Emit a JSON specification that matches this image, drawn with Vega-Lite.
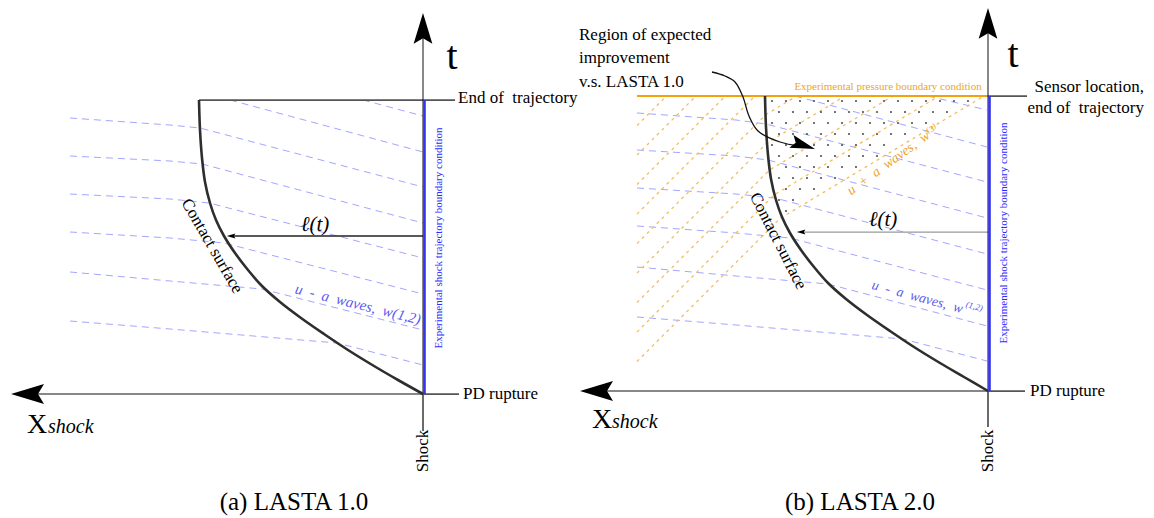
{
  "$schema": "https://vega.github.io/schema/vega-lite/v6.json",
  "width": 1154,
  "height": 518,
  "autosize": {"type": "fit", "contains": "padding"},
  "padding": 0,
  "background": "white",
  "config": {"view": {"stroke": null}, "font": "Tinos, 'Liberation Serif', 'Nimbus Roman', 'Times New Roman', 'DejaVu Serif', serif", "text": {"font": "Tinos, 'Liberation Serif', 'Nimbus Roman', 'Times New Roman', 'DejaVu Serif', serif"}},
  "encoding": {
    "x": {"field": "x", "type": "quantitative", "axis": null, "scale": {"domain": [0, 1154], "nice": false, "zero": false}},
    "y": {"field": "y", "type": "quantitative", "axis": null, "scale": {"domain": [0, 518], "reverse": true, "nice": false, "zero": false}}
  },
  "datasets": {
    "lines": [
      {"g": "a1", "k": "uminus", "i": 0, "x": 363, "y": 100}, {"g": "a1", "k": "uminus", "i": 1, "x": 423, "y": 116},
      {"g": "a2", "k": "uminus", "i": 0, "x": 230, "y": 100}, {"g": "a2", "k": "uminus", "i": 1, "x": 423, "y": 152},
      {"g": "a3", "k": "uminus", "i": 0, "x": 70, "y": 118}, {"g": "a3", "k": "uminus", "i": 1, "x": 170, "y": 125}, {"g": "a3", "k": "uminus", "i": 2, "x": 200, "y": 128}, {"g": "a3", "k": "uminus", "i": 3, "x": 423, "y": 187},
      {"g": "a4", "k": "uminus", "i": 0, "x": 70, "y": 156}, {"g": "a4", "k": "uminus", "i": 1, "x": 170, "y": 161}, {"g": "a4", "k": "uminus", "i": 2, "x": 202, "y": 164}, {"g": "a4", "k": "uminus", "i": 3, "x": 423, "y": 223},
      {"g": "a5", "k": "uminus", "i": 0, "x": 70, "y": 194}, {"g": "a5", "k": "uminus", "i": 1, "x": 170, "y": 199}, {"g": "a5", "k": "uminus", "i": 2, "x": 209, "y": 203}, {"g": "a5", "k": "uminus", "i": 3, "x": 423, "y": 258},
      {"g": "a6", "k": "uminus", "i": 0, "x": 70, "y": 232}, {"g": "a6", "k": "uminus", "i": 1, "x": 170, "y": 238}, {"g": "a6", "k": "uminus", "i": 2, "x": 224, "y": 243}, {"g": "a6", "k": "uminus", "i": 3, "x": 423, "y": 294},
      {"g": "a7", "k": "uminus", "i": 0, "x": 70, "y": 272}, {"g": "a7", "k": "uminus", "i": 1, "x": 170, "y": 281}, {"g": "a7", "k": "uminus", "i": 2, "x": 262, "y": 289}, {"g": "a7", "k": "uminus", "i": 3, "x": 423, "y": 330},
      {"g": "a8", "k": "uminus", "i": 0, "x": 70, "y": 321}, {"g": "a8", "k": "uminus", "i": 1, "x": 170, "y": 329}, {"g": "a8", "k": "uminus", "i": 2, "x": 337, "y": 343}, {"g": "a8", "k": "uminus", "i": 3, "x": 423, "y": 365},
      {"g": "b1", "k": "uminus", "i": 0, "x": 928, "y": 96}, {"g": "b1", "k": "uminus", "i": 1, "x": 987, "y": 110},
      {"g": "b2", "k": "uminus", "i": 0, "x": 795, "y": 96}, {"g": "b2", "k": "uminus", "i": 1, "x": 987, "y": 147},
      {"g": "b3", "k": "uminus", "i": 0, "x": 637, "y": 113}, {"g": "b3", "k": "uminus", "i": 1, "x": 736, "y": 120}, {"g": "b3", "k": "uminus", "i": 2, "x": 766, "y": 124}, {"g": "b3", "k": "uminus", "i": 3, "x": 987, "y": 182},
      {"g": "b4", "k": "uminus", "i": 0, "x": 637, "y": 150}, {"g": "b4", "k": "uminus", "i": 1, "x": 736, "y": 156}, {"g": "b4", "k": "uminus", "i": 2, "x": 768, "y": 160}, {"g": "b4", "k": "uminus", "i": 3, "x": 987, "y": 218},
      {"g": "b5", "k": "uminus", "i": 0, "x": 637, "y": 188}, {"g": "b5", "k": "uminus", "i": 1, "x": 736, "y": 194}, {"g": "b5", "k": "uminus", "i": 2, "x": 775, "y": 198}, {"g": "b5", "k": "uminus", "i": 3, "x": 987, "y": 254},
      {"g": "b6", "k": "uminus", "i": 0, "x": 637, "y": 226}, {"g": "b6", "k": "uminus", "i": 1, "x": 736, "y": 233}, {"g": "b6", "k": "uminus", "i": 2, "x": 790, "y": 238}, {"g": "b6", "k": "uminus", "i": 3, "x": 987, "y": 290},
      {"g": "b7", "k": "uminus", "i": 0, "x": 637, "y": 267}, {"g": "b7", "k": "uminus", "i": 1, "x": 736, "y": 276}, {"g": "b7", "k": "uminus", "i": 2, "x": 828, "y": 284}, {"g": "b7", "k": "uminus", "i": 3, "x": 987, "y": 326},
      {"g": "b8", "k": "uminus", "i": 0, "x": 637, "y": 317}, {"g": "b8", "k": "uminus", "i": 1, "x": 736, "y": 325}, {"g": "b8", "k": "uminus", "i": 2, "x": 903, "y": 339}, {"g": "b8", "k": "uminus", "i": 3, "x": 987, "y": 361},
      {"g": "o1", "k": "uplus", "i": 0, "x": 637, "y": 125.5}, {"g": "o1", "k": "uplus", "i": 1, "x": 666.5, "y": 96},
      {"g": "o2", "k": "uplus", "i": 0, "x": 637, "y": 155}, {"g": "o2", "k": "uplus", "i": 1, "x": 696, "y": 96},
      {"g": "o3", "k": "uplus", "i": 0, "x": 637, "y": 184.5}, {"g": "o3", "k": "uplus", "i": 1, "x": 725.5, "y": 96},
      {"g": "o4", "k": "uplus", "i": 0, "x": 637, "y": 214}, {"g": "o4", "k": "uplus", "i": 1, "x": 755, "y": 96},
      {"g": "o5", "k": "uplus", "i": 0, "x": 637, "y": 243.5}, {"g": "o5", "k": "uplus", "i": 1, "x": 766, "y": 114.5}, {"g": "o5", "k": "uplus", "i": 2, "x": 797, "y": 96},
      {"g": "o6", "k": "uplus", "i": 0, "x": 637, "y": 273}, {"g": "o6", "k": "uplus", "i": 1, "x": 767, "y": 143}, {"g": "o6", "k": "uplus", "i": 2, "x": 845, "y": 96},
      {"g": "o7", "k": "uplus", "i": 0, "x": 637, "y": 302.5}, {"g": "o7", "k": "uplus", "i": 1, "x": 769.5, "y": 170}, {"g": "o7", "k": "uplus", "i": 2, "x": 893, "y": 96},
      {"g": "o8", "k": "uplus", "i": 0, "x": 637, "y": 332}, {"g": "o8", "k": "uplus", "i": 1, "x": 774, "y": 195}, {"g": "o8", "k": "uplus", "i": 2, "x": 939, "y": 96},
      {"g": "o9", "k": "uplus", "i": 0, "x": 637, "y": 361.5}, {"g": "o9", "k": "uplus", "i": 1, "x": 780, "y": 218.5}, {"g": "o9", "k": "uplus", "i": 2, "x": 984, "y": 96},
      {"g": "pr", "k": "pressure", "i": 0, "x": 637, "y": 96}, {"g": "pr", "k": "pressure", "i": 1, "x": 988, "y": 96},
      {"g": "ea", "k": "guide", "i": 0, "x": 199, "y": 100}, {"g": "ea", "k": "guide", "i": 1, "x": 455, "y": 100},
      {"g": "pa", "k": "guide", "i": 0, "x": 423, "y": 394}, {"g": "pa", "k": "guide", "i": 1, "x": 459, "y": 394},
      {"g": "ka", "k": "guide", "i": 0, "x": 423, "y": 394}, {"g": "ka", "k": "guide", "i": 1, "x": 423, "y": 431},
      {"g": "sn", "k": "guide", "i": 0, "x": 988, "y": 96}, {"g": "sn", "k": "guide", "i": 1, "x": 1027, "y": 96},
      {"g": "pb", "k": "guide", "i": 0, "x": 988, "y": 391}, {"g": "pb", "k": "guide", "i": 1, "x": 1025, "y": 391},
      {"g": "kb", "k": "guide", "i": 0, "x": 988, "y": 391}, {"g": "kb", "k": "guide", "i": 1, "x": 988, "y": 427},
      {"g": "la", "k": "ell_a", "i": 0, "x": 423, "y": 236}, {"g": "la", "k": "ell_a", "i": 1, "x": 232, "y": 236},
      {"g": "lb", "k": "ell_b", "i": 0, "x": 988, "y": 232}, {"g": "lb", "k": "ell_b", "i": 1, "x": 802, "y": 232},
      {"g": "ta", "k": "axis", "i": 0, "x": 423, "y": 394}, {"g": "ta", "k": "axis", "i": 1, "x": 423, "y": 34},
      {"g": "xa", "k": "axis", "i": 0, "x": 423, "y": 394}, {"g": "xa", "k": "axis", "i": 1, "x": 34, "y": 394},
      {"g": "tb", "k": "axis", "i": 0, "x": 988, "y": 391}, {"g": "tb", "k": "axis", "i": 1, "x": 988, "y": 29},
      {"g": "xb", "k": "axis", "i": 0, "x": 988, "y": 391}, {"g": "xb", "k": "axis", "i": 1, "x": 603, "y": 391},
      {"g": "sa", "k": "shock", "i": 0, "x": 424.5, "y": 100}, {"g": "sa", "k": "shock", "i": 1, "x": 424.5, "y": 394},
      {"g": "sb", "k": "shock", "i": 0, "x": 989.5, "y": 96}, {"g": "sb", "k": "shock", "i": 1, "x": 989.5, "y": 391}
    ],
    "curves": [
      {"g": "ca", "k": "contact", "i": 0, "x": 199, "y": 100}, {"g": "ca", "k": "contact", "i": 1, "x": 200, "y": 130}, {"g": "ca", "k": "contact", "i": 2, "x": 202, "y": 158}, {"g": "ca", "k": "contact", "i": 3, "x": 205, "y": 182}, {"g": "ca", "k": "contact", "i": 4, "x": 210, "y": 203}, {"g": "ca", "k": "contact", "i": 5, "x": 216, "y": 220}, {"g": "ca", "k": "contact", "i": 6, "x": 224, "y": 236}, {"g": "ca", "k": "contact", "i": 7, "x": 235, "y": 253}, {"g": "ca", "k": "contact", "i": 8, "x": 248, "y": 270}, {"g": "ca", "k": "contact", "i": 9, "x": 262, "y": 286}, {"g": "ca", "k": "contact", "i": 10, "x": 280, "y": 302}, {"g": "ca", "k": "contact", "i": 11, "x": 301, "y": 318}, {"g": "ca", "k": "contact", "i": 12, "x": 324, "y": 334}, {"g": "ca", "k": "contact", "i": 13, "x": 348, "y": 350}, {"g": "ca", "k": "contact", "i": 14, "x": 374, "y": 366}, {"g": "ca", "k": "contact", "i": 15, "x": 398, "y": 380}, {"g": "ca", "k": "contact", "i": 16, "x": 423, "y": 394},
      {"g": "cb", "k": "contact", "i": 0, "x": 765, "y": 96}, {"g": "cb", "k": "contact", "i": 1, "x": 766, "y": 127}, {"g": "cb", "k": "contact", "i": 2, "x": 768, "y": 155}, {"g": "cb", "k": "contact", "i": 3, "x": 771, "y": 179}, {"g": "cb", "k": "contact", "i": 4, "x": 776, "y": 200}, {"g": "cb", "k": "contact", "i": 5, "x": 782, "y": 217}, {"g": "cb", "k": "contact", "i": 6, "x": 790, "y": 233}, {"g": "cb", "k": "contact", "i": 7, "x": 801, "y": 250}, {"g": "cb", "k": "contact", "i": 8, "x": 814, "y": 267}, {"g": "cb", "k": "contact", "i": 9, "x": 828, "y": 283}, {"g": "cb", "k": "contact", "i": 10, "x": 846, "y": 299}, {"g": "cb", "k": "contact", "i": 11, "x": 867, "y": 315}, {"g": "cb", "k": "contact", "i": 12, "x": 890, "y": 331}, {"g": "cb", "k": "contact", "i": 13, "x": 914, "y": 347}, {"g": "cb", "k": "contact", "i": 14, "x": 940, "y": 363}, {"g": "cb", "k": "contact", "i": 15, "x": 964, "y": 377}, {"g": "cb", "k": "contact", "i": 16, "x": 988, "y": 391},
      {"g": "pt", "k": "pointer", "i": 0, "x": 712, "y": 72}, {"g": "pt", "k": "pointer", "i": 1, "x": 725, "y": 76}, {"g": "pt", "k": "pointer", "i": 2, "x": 735, "y": 82}, {"g": "pt", "k": "pointer", "i": 3, "x": 743, "y": 97}, {"g": "pt", "k": "pointer", "i": 4, "x": 749, "y": 116}, {"g": "pt", "k": "pointer", "i": 5, "x": 758, "y": 131}, {"g": "pt", "k": "pointer", "i": 6, "x": 780, "y": 142}, {"g": "pt", "k": "pointer", "i": 7, "x": 800, "y": 146}
    ],
    "dots": [
      {"x": 772, "y": 101}, {"x": 786, "y": 101}, {"x": 800, "y": 101}, {"x": 814, "y": 101}, {"x": 828, "y": 101}, {"x": 842, "y": 101}, {"x": 856, "y": 101}, {"x": 870, "y": 101}, {"x": 884, "y": 101}, {"x": 898, "y": 101}, {"x": 912, "y": 101}, {"x": 926, "y": 101}, {"x": 940, "y": 101}, {"x": 954, "y": 101}, {"x": 968, "y": 101},
      {"x": 779, "y": 112}, {"x": 793, "y": 112}, {"x": 807, "y": 112}, {"x": 821, "y": 112}, {"x": 835, "y": 112}, {"x": 849, "y": 112}, {"x": 863, "y": 112}, {"x": 877, "y": 112}, {"x": 891, "y": 112}, {"x": 905, "y": 112}, {"x": 919, "y": 112}, {"x": 933, "y": 112}, {"x": 947, "y": 112},
      {"x": 772, "y": 123}, {"x": 786, "y": 123}, {"x": 800, "y": 123}, {"x": 814, "y": 123}, {"x": 828, "y": 123}, {"x": 842, "y": 123}, {"x": 856, "y": 123}, {"x": 870, "y": 123}, {"x": 884, "y": 123}, {"x": 898, "y": 123}, {"x": 912, "y": 123}, {"x": 926, "y": 123},
      {"x": 779, "y": 134}, {"x": 793, "y": 134}, {"x": 807, "y": 134}, {"x": 821, "y": 134}, {"x": 835, "y": 134}, {"x": 849, "y": 134}, {"x": 863, "y": 134}, {"x": 877, "y": 134}, {"x": 891, "y": 134}, {"x": 905, "y": 134},
      {"x": 772, "y": 145}, {"x": 786, "y": 145}, {"x": 800, "y": 145}, {"x": 814, "y": 145}, {"x": 828, "y": 145}, {"x": 842, "y": 145}, {"x": 856, "y": 145}, {"x": 870, "y": 145}, {"x": 884, "y": 145},
      {"x": 779, "y": 156}, {"x": 793, "y": 156}, {"x": 807, "y": 156}, {"x": 821, "y": 156}, {"x": 835, "y": 156}, {"x": 849, "y": 156}, {"x": 863, "y": 156}, {"x": 877, "y": 156},
      {"x": 786, "y": 167}, {"x": 800, "y": 167}, {"x": 814, "y": 167}, {"x": 828, "y": 167}, {"x": 842, "y": 167}, {"x": 856, "y": 167},
      {"x": 779, "y": 178}, {"x": 793, "y": 178}, {"x": 807, "y": 178}, {"x": 821, "y": 178}, {"x": 835, "y": 178},
      {"x": 786, "y": 189}, {"x": 800, "y": 189}, {"x": 814, "y": 189},
      {"x": 779, "y": 200}, {"x": 793, "y": 200},
      {"x": 786, "y": 211}
    ],
    "heads": [
      {"h": "up", "x": 423, "y": 31.7}, {"h": "up", "x": 988, "y": 26.7},
      {"h": "left", "x": 31, "y": 394}, {"h": "left", "x": 600, "y": 391},
      {"h": "small", "x": 232, "y": 236}, {"h": "small", "x": 802, "y": 232},
      {"h": "pointer", "x": 800.7, "y": 144.4}
    ],
    "labels": [
      {"s": "t", "r": "tbig", "x": 452, "y": 69}, {"s": "t", "r": "tbig", "x": 1013, "y": 67},
      {"s": "X", "r": "X", "x": 27, "y": 433}, {"s": "X", "r": "X", "x": 592, "y": 428},
      {"s": "shock", "r": "sub", "x": 48, "y": 433}, {"s": "shock", "r": "sub", "x": 612, "y": 428},
      {"s": "End of\u00a0 trajectory", "r": "left", "x": 458, "y": 98},
      {"s": "PD rupture", "r": "left", "x": 463, "y": 394},
      {"s": "PD rupture", "r": "left", "x": 1030, "y": 391},
      {"s": "Region of expected", "r": "left", "x": 579, "y": 35},
      {"s": "improvement", "r": "left", "x": 579, "y": 58},
      {"s": "v.s. LASTA 1.0", "r": "left", "x": 579, "y": 82},
      {"s": "Sensor location,", "r": "right", "x": 1144, "y": 87},
      {"s": "end of\u00a0 trajectory", "r": "right", "x": 1144, "y": 108},
      {"s": "Shock", "r": "vert", "x": 423, "y": 451}, {"s": "Shock", "r": "vert", "x": 988, "y": 451},
      {"s": "(a) LASTA 1.0", "r": "cap", "x": 294, "y": 502}, {"s": "(b) LASTA 2.0", "r": "cap", "x": 860, "y": 502},
      {"s": "ℓ(t)", "r": "ell", "x": 315, "y": 225}, {"s": "ℓ(t)", "r": "ell", "x": 883, "y": 220},
      {"s": "Contact surface", "r": "csa", "x": 212, "y": 246},
      {"s": "Contact surface", "r": "csb", "x": 778, "y": 241},
      {"s": "Experimental shock trajectory boundary condition", "r": "bc", "x": 439, "y": 238},
      {"s": "Experimental shock trajectory boundary condition", "r": "bc", "x": 1004, "y": 233},
      {"s": "Experimental pressure boundary condition", "r": "pbc", "x": 888, "y": 87},
      {"s": "u\u00a0 -\u00a0 a\u00a0 waves,\u00a0 w(1,2)", "r": "uma", "x": 358, "y": 304},
      {"s": "u\u00a0 -\u00a0 a\u00a0 waves,\u00a0 w", "r": "umb", "x": 872, "y": 285},
      {"s": "(1,2)", "r": "umsup", "x": 966, "y": 304},
      {"s": "u\u00a0 +\u00a0 a\u00a0 waves,\u00a0 w⁽³⁾", "r": "upa", "x": 893, "y": 160}
    ]
  },
  "layer": [
    {"data": {"name": "lines"}, "transform": [{"filter": "datum.k == 'uminus'"}],
     "mark": {"type": "line", "stroke": "#a3a6ff", "strokeWidth": 1, "strokeDash": [7, 5]},
     "encoding": {"detail": {"field": "g"}, "order": {"field": "i"}}},
    {"data": {"name": "lines"}, "transform": [{"filter": "datum.k == 'uplus'"}],
     "mark": {"type": "line", "stroke": "#f2bd5e", "strokeWidth": 1.3, "strokeDash": [3, 4]},
     "encoding": {"detail": {"field": "g"}, "order": {"field": "i"}}},
    {"data": {"name": "dots"},
     "mark": {"type": "point", "shape": "circle", "filled": true, "color": "#555555", "opacity": 1, "size": 5}},
    {"data": {"name": "lines"}, "transform": [{"filter": "indexof(['pressure','guide','ell_a','ell_b','axis'], datum.k) >= 0"}],
     "mark": {"type": "line"},
     "encoding": {
       "detail": {"field": "g"}, "order": {"field": "i"},
       "color": {"field": "k", "type": "nominal", "legend": null,
                 "scale": {"domain": ["pressure", "guide", "ell_a", "ell_b", "axis"], "range": ["#f2a20c", "#555555", "#222222", "#9a9a9a", "#111111"]}},
       "strokeWidth": {"field": "k", "type": "nominal", "legend": null,
                 "scale": {"domain": ["pressure", "guide", "ell_a", "ell_b", "axis"], "range": [2, 1, 1, 1.6, 2.4]}}
     }},
    {"data": {"name": "lines"}, "transform": [{"filter": "datum.k == 'shock'"}],
     "mark": {"type": "line", "stroke": "#3434ee", "strokeWidth": 2.6},
     "encoding": {"detail": {"field": "g"}, "order": {"field": "i"}}},
    {"data": {"name": "curves"}, "transform": [{"filter": "datum.k == 'contact'"}],
     "mark": {"type": "line", "stroke": "#2e2e2e", "strokeWidth": 2.6, "interpolate": "catmull-rom"},
     "encoding": {"detail": {"field": "g"}, "order": {"field": "i"}}},
    {"data": {"name": "curves"}, "transform": [{"filter": "datum.k == 'pointer'"}],
     "mark": {"type": "line", "stroke": "#111111", "strokeWidth": 1.3, "interpolate": "catmull-rom"},
     "encoding": {"detail": {"field": "g"}, "order": {"field": "i"}}},
    {"data": {"name": "heads"}, "transform": [{"filter": "datum.h == 'up'"}],
     "mark": {"type": "point", "shape": "M0,-1L0.5,0.65L0,0.35L-0.5,0.65Z", "size": 1400, "filled": true, "color": "#000000", "opacity": 1}},
    {"data": {"name": "heads"}, "transform": [{"filter": "datum.h == 'left'"}],
     "mark": {"type": "point", "shape": "M0,-1L0.5,0.65L0,0.35L-0.5,0.65Z", "size": 1600, "angle": -90, "filled": true, "color": "#000000", "opacity": 1}},
    {"data": {"name": "heads"}, "transform": [{"filter": "datum.h == 'small'"}],
     "mark": {"type": "point", "shape": "M0,-1L0.5,0.65L0,0.35L-0.5,0.65Z", "size": 110, "angle": -90, "filled": true, "color": "#000000", "opacity": 1}},
    {"data": {"name": "heads"}, "transform": [{"filter": "datum.h == 'pointer'"}],
     "mark": {"type": "point", "shape": "M1,0L-0.65,-0.45L-0.35,0L-0.65,0.45Z", "size": 900, "angle": 18, "filled": true, "color": "#000000", "opacity": 1}},
    {"data": {"name": "labels"}, "transform": [{"filter": "datum.r == 'tbig'"}],
     "mark": {"type": "text", "fontSize": 40, "align": "center", "baseline": "alphabetic", "color": "#000000"},
     "encoding": {"text": {"field": "s"}}},
    {"data": {"name": "labels"}, "transform": [{"filter": "datum.r == 'X'"}],
     "mark": {"type": "text", "fontSize": 28, "align": "left", "baseline": "alphabetic", "color": "#000000"},
     "encoding": {"text": {"field": "s"}}},
    {"data": {"name": "labels"}, "transform": [{"filter": "datum.r == 'sub'"}],
     "mark": {"type": "text", "fontSize": 20, "fontStyle": "italic", "align": "left", "baseline": "alphabetic", "color": "#000000"},
     "encoding": {"text": {"field": "s"}}},
    {"data": {"name": "labels"}, "transform": [{"filter": "datum.r == 'left'"}],
     "mark": {"type": "text", "fontSize": 17, "align": "left", "baseline": "middle", "color": "#000000"},
     "encoding": {"text": {"field": "s"}}},
    {"data": {"name": "labels"}, "transform": [{"filter": "datum.r == 'right'"}],
     "mark": {"type": "text", "fontSize": 17, "align": "right", "baseline": "middle", "color": "#000000"},
     "encoding": {"text": {"field": "s"}}},
    {"data": {"name": "labels"}, "transform": [{"filter": "datum.r == 'vert'"}],
     "mark": {"type": "text", "fontSize": 17, "angle": -90, "align": "center", "baseline": "middle", "color": "#000000"},
     "encoding": {"text": {"field": "s"}}},
    {"data": {"name": "labels"}, "transform": [{"filter": "datum.r == 'cap'"}],
     "mark": {"type": "text", "fontSize": 25, "align": "center", "baseline": "middle", "color": "#000000"},
     "encoding": {"text": {"field": "s"}}},
    {"data": {"name": "labels"}, "transform": [{"filter": "datum.r == 'ell'"}],
     "mark": {"type": "text", "fontSize": 21, "fontStyle": "italic", "align": "center", "baseline": "middle", "color": "#000000"},
     "encoding": {"text": {"field": "s"}}},
    {"data": {"name": "labels"}, "transform": [{"filter": "datum.r == 'csa'"}],
     "mark": {"type": "text", "fontSize": 17, "angle": 60, "align": "center", "baseline": "middle", "color": "#000000"},
     "encoding": {"text": {"field": "s"}}},
    {"data": {"name": "labels"}, "transform": [{"filter": "datum.r == 'csb'"}],
     "mark": {"type": "text", "fontSize": 17, "angle": 63, "align": "center", "baseline": "middle", "color": "#000000"},
     "encoding": {"text": {"field": "s"}}},
    {"data": {"name": "labels"}, "transform": [{"filter": "datum.r == 'bc'"}],
     "mark": {"type": "text", "fontSize": 11, "angle": -90, "align": "center", "baseline": "middle", "color": "#2b2bff"},
     "encoding": {"text": {"field": "s"}}},
    {"data": {"name": "labels"}, "transform": [{"filter": "datum.r == 'pbc'"}],
     "mark": {"type": "text", "fontSize": 11, "align": "center", "baseline": "middle", "color": "#eca52a"},
     "encoding": {"text": {"field": "s"}}},
    {"data": {"name": "labels"}, "transform": [{"filter": "datum.r == 'uma'"}],
     "mark": {"type": "text", "fontSize": 15, "fontStyle": "italic", "angle": 14, "align": "center", "baseline": "middle", "color": "#5a5af0"},
     "encoding": {"text": {"field": "s"}}},
    {"data": {"name": "labels"}, "transform": [{"filter": "datum.r == 'umb'"}],
     "mark": {"type": "text", "fontSize": 14, "fontStyle": "italic", "angle": 15, "align": "left", "baseline": "middle", "color": "#5a5af0"},
     "encoding": {"text": {"field": "s"}}},
    {"data": {"name": "labels"}, "transform": [{"filter": "datum.r == 'umsup'"}],
     "mark": {"type": "text", "fontSize": 9, "fontStyle": "italic", "angle": 15, "align": "left", "baseline": "middle", "color": "#5a5af0"},
     "encoding": {"text": {"field": "s"}}},
    {"data": {"name": "labels"}, "transform": [{"filter": "datum.r == 'upa'"}],
     "mark": {"type": "text", "fontSize": 14, "fontStyle": "italic", "angle": -36, "align": "center", "baseline": "middle", "color": "#eca52a"},
     "encoding": {"text": {"field": "s"}}}
  ]
}
